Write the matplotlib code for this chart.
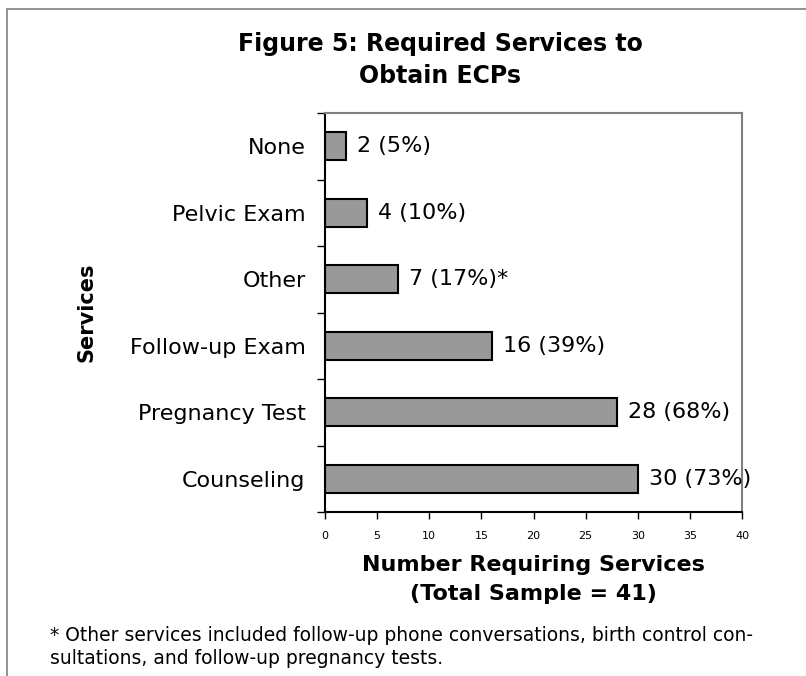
import matplotlib.pyplot as plt
from matplotlib.patches import Rectangle

services = ['None', 'Pelvic Exam', 'Other', 'Follow-up Exam', 'Pregnancy Test', 'Counseling']
counts = [2, 4, 7, 16, 28, 30]
notes = ['', '', '*', '', '', '']
total = 41
x_ticks = [0, 5, 10, 15, 20, 25, 30, 35, 40]

footnote = ('* Other services included follow-up phone conversations, birth control con-\n'
            'sultations, and follow-up pregnancy tests.')


def graph():
    plt.rcParams['font.family'] = ['DejaVu Sans']
    fig = plt.figure(figsize=(8.06, 6.76), dpi=100)
    ax = fig.add_axes([325 / 806, 1 - 512 / 676, 417 / 806, 399 / 676])

    ypos = list(range(len(services)))
    ax.barh(ypos, counts, height=0.42, color='#999999', edgecolor='black', linewidth=1.5)
    for y, c, n in zip(ypos, counts, notes):
        label = '%d (%d%%)%s' % (c, round(c / total * 100), n)
        ax.annotate(label, (c, y), xytext=(8, 0), textcoords='offset points',
                    va='center', ha='left', fontsize=16)

    ax.set_ylim(len(services) - 0.5, -0.5)
    ax.set_xlim(0, 40)
    ax.set_yticks(ypos)
    ax.set_yticklabels(services, fontsize=16)
    ax.set_yticks([y - 0.5 for y in ypos] + [len(services) - 0.5], minor=True)
    ax.tick_params(axis='y', which='major', length=0, pad=14)
    ax.tick_params(axis='y', which='minor', length=6, width=1, color='black')
    ax.set_xticks(x_ticks)
    ax.set_xticklabels([str(t) for t in x_ticks], fontsize=8)
    ax.tick_params(axis='x', length=5, width=1, pad=9)

    ax.spines['left'].set_color('black')
    ax.spines['bottom'].set_color('black')
    ax.spines['top'].set_color('#808080')
    ax.spines['right'].set_color('#808080')
    for s in ax.spines.values():
        s.set_linewidth(1.5)

    ax.set_xlabel('Number Requiring Services\n(Total Sample = 41)', fontsize=16,
                  fontweight='bold', labelpad=10, linespacing=1.55)
    ax.set_ylabel('Services', fontsize=15, fontweight='bold', labelpad=24)

    fig.text(440 / 806, 1 - 60 / 676, 'Figure 5: Required Services to\nObtain ECPs',
             ha='center', va='center', fontsize=17, fontweight='bold', linespacing=1.4)
    fig.text(50 / 806, 1 - 647 / 676, footnote, ha='left', va='center', fontsize=13.5,
             linespacing=1.3)

    fig.add_artist(Rectangle((7 / 806, -0.1), 1.0, 1.1 - 9 / 676, transform=fig.transFigure,
                             fill=False, edgecolor='#808080', linewidth=1.2))

    plt.savefig('out.png', dpi=100)
    plt.close()


if __name__ == "__main__":
    graph()
